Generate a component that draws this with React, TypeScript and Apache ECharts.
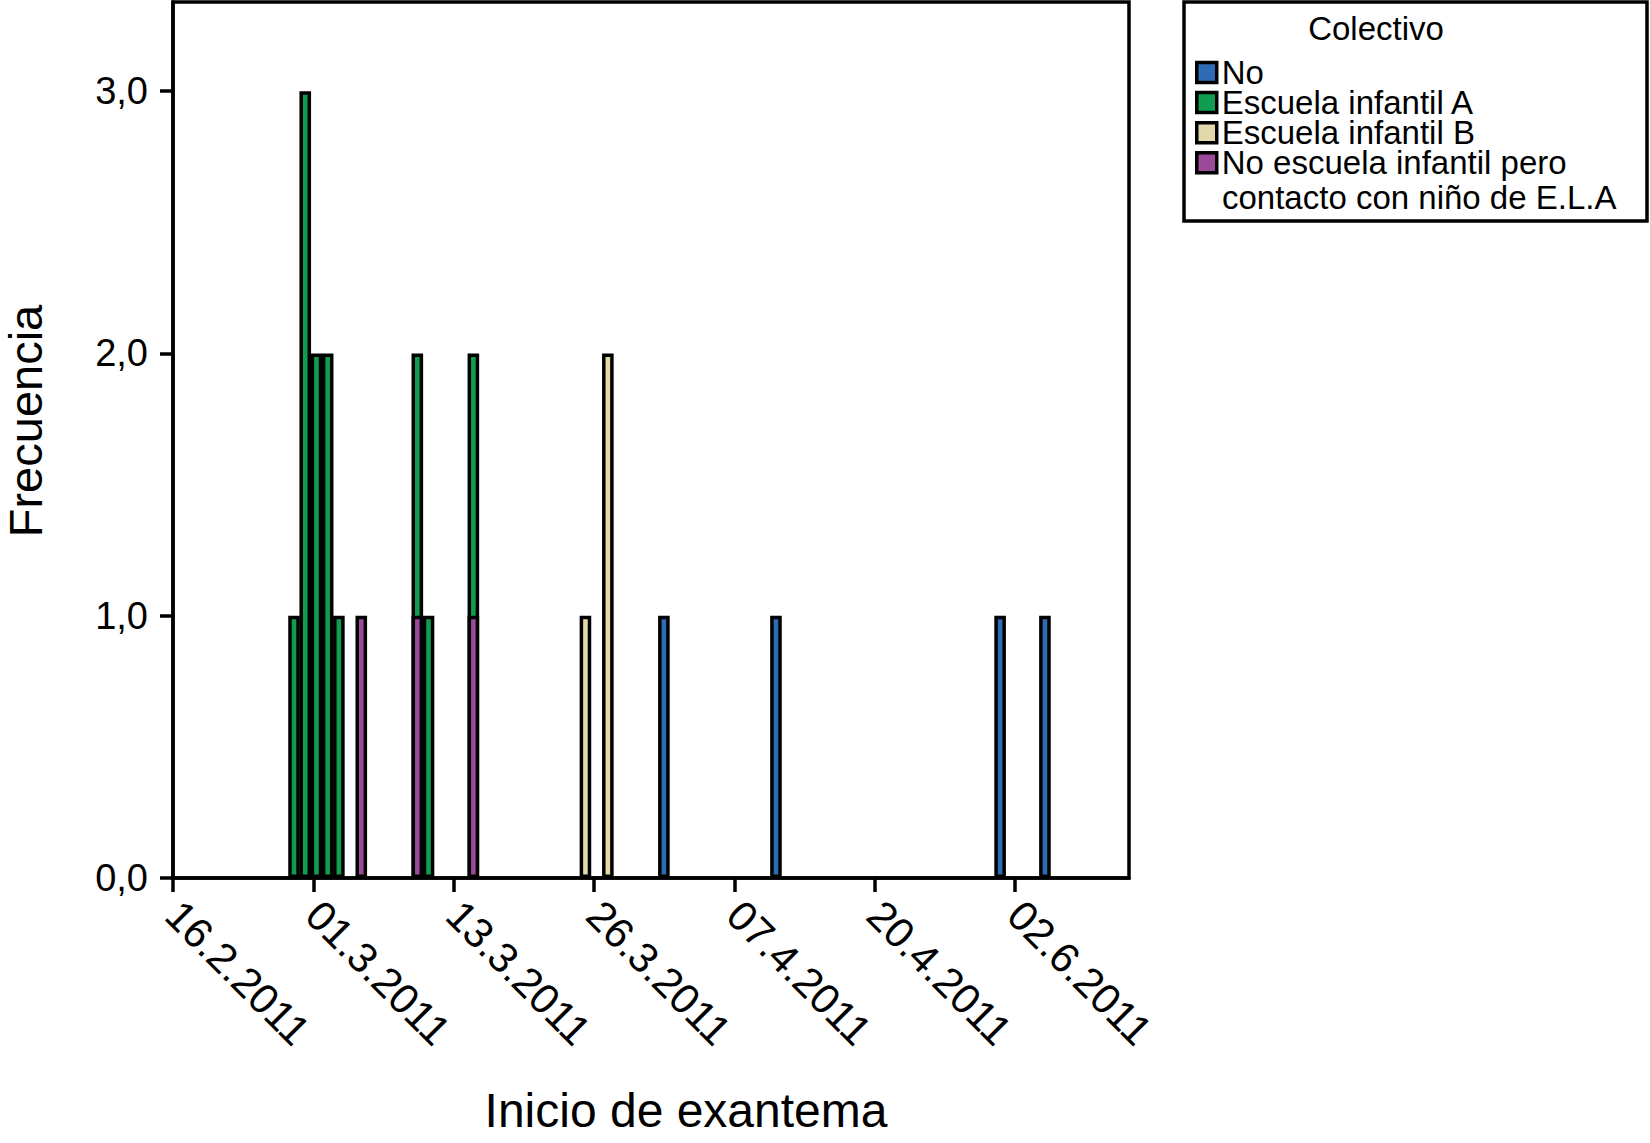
import { useEffect, useRef } from 'react';
import * as echarts from 'echarts';

// Days since 16.2.2011 (1-day bins)
const DAYS = [11, 12, 13, 14, 15, 17, 22, 23, 27, 37, 39, 44, 54, 74, 78];
const NO_VALUES = [null, null, null, null, null, null, null, null, null, null, null, 1, 1, 1, 1];
const ESCUELA_A_VALUES = [1, 3, 2, 2, 1, null, 1, 1, 1, null, null, null, null, null, null];
const ESCUELA_B_VALUES = [null, null, null, null, null, null, null, null, null, 1, 2, null, null, null, null];
const NO_ESCUELA_VALUES = [null, null, null, null, null, 1, 1, null, 1, null, null, null, null, null, null];

const TICK_LABELS = ['16.2.2011', '01.3.2011', '13.3.2011', '26.3.2011', '07.4.2011', '20.4.2011', '02.6.2011'];
const Y_TICKS = [0, 1, 2, 3];

const NAME_NO = 'No';
const NAME_A = 'Escuela infantil A';
const NAME_B = 'Escuela infantil B';
const NAME_C = 'No escuela infantil pero contacto con niño de E.L.A';

const COLORS: Record<string, string> = {
  [NAME_NO]: '#2d6cb5',
  [NAME_A]: '#0f9d50',
  [NAME_B]: '#e2d9ab',
  [NAME_C]: '#9a4a98',
};

const FONT = '"Liberation Sans", Arial, Helvetica, sans-serif';
const TICK_START = 0.2;
const TICK_STEP = 12.52;
const LINE_W = 3.5;
const BAR_W = 11.6;

type V = number | null;

// stacked top of a series: its own value plus everything stacked beneath it
function stackTop(values: V[], below: V[][]) {
  return values.map((v, i) => (v == null ? null : v + below.reduce((s, b) => s + (b[i] ?? 0), 0)));
}

function toData(values: V[]) {
  return DAYS.map((d, i) => [d, values[i] == null ? '-' : values[i]]);
}

export default function App() {
  const ref = useRef<HTMLDivElement>(null);
  useEffect(() => {
    document.body.style.margin = '0';
    if (!ref.current) return;
    const chart = echarts.init(ref.current, null, { renderer: 'svg' });
    const tickVals = TICK_LABELS.map((_, i) => +(TICK_START + i * TICK_STEP).toFixed(3));
    // stacking order (bottom -> top): No escuela (purple), Escuela A, Escuela B, No
    const mk = (name: string, values: V[], z: number) => ({
      name,
      type: 'bar',
      barMinWidth: BAR_W,
      barMaxWidth: BAR_W,
      barGap: '-100%',
      z,
      data: toData(values),
      itemStyle: { color: COLORS[name], borderColor: '#000', borderWidth: LINE_W },
    });
    chart.setOption({
      animation: false,
      backgroundColor: '#fff',
      textStyle: { fontFamily: FONT },
      grid: {
        left: 173,
        right: 521,
        top: 2,
        bottom: 265,
        show: true,
        borderColor: '#000',
        borderWidth: LINE_W,
        containLabel: false,
        outerBoundsMode: 'none',
      },
      xAxis: {
        type: 'value',
        min: 0.2,
        max: 85.5,
        splitLine: { show: false },
        axisLine: { show: true, onZero: false, lineStyle: { color: '#000', width: LINE_W } },
        axisTick: { show: true, customValues: tickVals, length: 14, lineStyle: { color: '#000', width: LINE_W } },
        axisLabel: {
          customValues: tickVals,
          rotate: -45,
          margin: 30,
          fontSize: 42,
          color: '#000',
          fontFamily: FONT,
          formatter: (v: number) => {
            const idx = Math.round((v - TICK_START) / TICK_STEP);
            return TICK_LABELS[idx] ?? '';
          },
        },
        name: 'Inicio de exantema',
        nameLocation: 'middle',
        nameGap: 208,
        nameTextStyle: { fontSize: 48, color: '#000', fontFamily: FONT, padding: [0, 0, 0, 70] },
      },
      yAxis: {
        type: 'value',
        min: 0,
        max: 3.34,
        splitLine: { show: false },
        axisLine: { show: true, lineStyle: { color: '#000', width: LINE_W } },
        axisTick: { show: true, customValues: Y_TICKS, length: 13, lineStyle: { color: '#000', width: LINE_W } },
        axisLabel: {
          customValues: Y_TICKS,
          margin: 25,
          fontSize: 38,
          color: '#000',
          fontFamily: FONT,
          formatter: (v: number) => v.toFixed(1).replace('.', ','),
        },
        name: 'Frecuencia',
        nameLocation: 'middle',
        nameGap: 124,
        nameTextStyle: { fontSize: 47, color: '#000', fontFamily: FONT, padding: [0, 0, 0, 38] },
      },
      legend: {
        orient: 'vertical',
        left: 1195,
        top: 56,
        padding: 0,
        itemWidth: 20,
        itemHeight: 20,
        itemGap: -2.9,
        icon: 'rect',
        selectedMode: false,
        data: [NAME_NO, NAME_A, NAME_B, NAME_C],
        itemStyle: { borderColor: '#000', borderWidth: LINE_W },
        textStyle: { fontSize: 33, color: '#000', fontFamily: FONT },
        formatter: (name: string) => (name === NAME_C ? 'No escuela infantil pero' : name),
      },
      graphic: [
        {
          type: 'rect',
          shape: { x: 1184, y: 2, width: 463, height: 219 },
          style: { fill: 'none', stroke: '#000', lineWidth: LINE_W },
          silent: true,
        },
        {
          type: 'text',
          x: 1376,
          y: 28,
          style: { text: 'Colectivo', fill: '#000', font: `33px ${FONT}`, align: 'center', verticalAlign: 'middle' },
        },
        {
          type: 'text',
          x: 1222,
          y: 197,
          style: { text: 'contacto con niño de E.L.A', fill: '#000', font: `33px ${FONT}`, align: 'left', verticalAlign: 'middle' },
        },
      ],
      series: [
        mk(NAME_NO, stackTop(NO_VALUES, [NO_ESCUELA_VALUES, ESCUELA_A_VALUES, ESCUELA_B_VALUES]), 2),
        mk(NAME_B, stackTop(ESCUELA_B_VALUES, [NO_ESCUELA_VALUES, ESCUELA_A_VALUES]), 3),
        mk(NAME_A, stackTop(ESCUELA_A_VALUES, [NO_ESCUELA_VALUES]), 4),
        mk(NAME_C, NO_ESCUELA_VALUES, 5),
      ],
    });
    return () => chart.dispose();
  }, []);
  return <div ref={ref} style={{ width: 1650, height: 1143 }} />;
}
